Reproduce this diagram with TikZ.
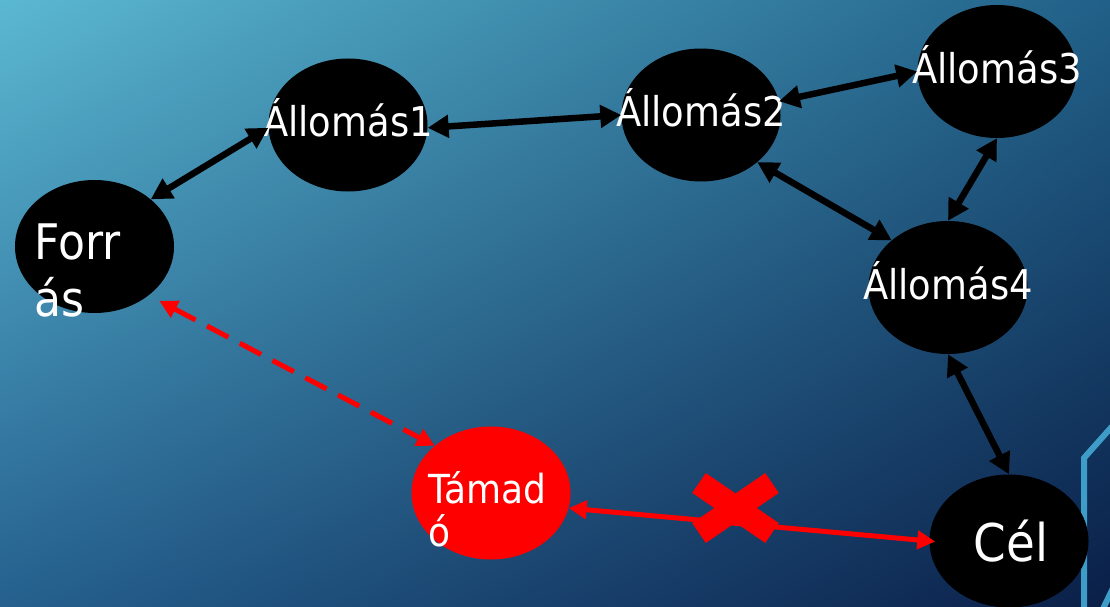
\documentclass[tikz,border=0pt]{standalone}
\usepackage{fontspec}
\setmainfont{DejaVu Sans}[FakeStretch=0.9]
\usetikzlibrary{shapes.geometric, arrows.meta, shadings}

\definecolor{bgTL}{RGB}{91,184,210}
\definecolor{bgTR}{RGB}{33,96,136}
\definecolor{bgBL}{RGB}{37,96,142}
\definecolor{bgBR}{RGB}{10,31,72}
\definecolor{frameblue}{RGB}{62,156,201}
\definecolor{alarm}{RGB}{255,0,0}

\tikzset{
  stn/.style={ellipse, fill=black, draw=none, inner sep=0pt,
              minimum width=159pt, minimum height=133pt},
  atk/.style={stn, fill=alarm},
  lbl/.style={text=white, inner sep=0pt, font=\fontsize{41}{48}\selectfont},
  stnlbl/.style={lbl, yshift=7pt},
  bigtxt/.style={text=white, inner sep=0pt, font=\fontsize{49}{57}\selectfont},
  link/.style={line width=6.5pt, black,
               {Triangle[length=21pt,width=22pt]}-{Triangle[length=21pt,width=22pt]}},
  redlink/.style={line width=5pt, alarm,
               {Triangle[length=18pt,width=18pt]}-{Triangle[length=18pt,width=18pt]}},
  xbar/.style={line width=24pt, alarm, line cap=butt}
}

\begin{document}
\begin{tikzpicture}[x=1pt,y=-1pt]
  % background
  \useasboundingbox (0,0) rectangle (1110,607);
  \shade[upper left=bgTL, upper right=bgTR, lower left=bgBL, lower right=bgBR]
    (0,0) rectangle (1110,607);
  \draw[line width=6pt, frameblue, line join=miter] (1084,615) -- (1084,458) -- (1116,422);
  \draw[line width=6pt, frameblue] (1100,615) -- (1114,586);

  % stations
  \node[stn] (forras) at (94.5,246.5) {};
  \node[bigtxt, anchor=north west, align=left] (forrasTxt) at (34,224) {Forr\\ás};
  \node[stn, label={[stnlbl]center:Állomás1}] (a1) at (348,125) {};
  \node[stn, label={[stnlbl]center:Állomás2}] (a2) at (701,115) {};
  \node[stn, label={[stnlbl]center:Állomás3}] (a3) at (997,71.5) {};
  \node[stn, label={[stnlbl]center:Állomás4}] (a4) at (948,287.5) {};
  \node[stn, label={[text=white, inner sep=0pt, font=\fontsize{52}{60}\selectfont,
        xshift=2pt]center:Cél}] (cel) at (1009,541) {};
  \node[atk] (tamado) at (491,493) {};
  \node[lbl, anchor=north west, align=left, font=\fontsize{40}{43}\selectfont]
    (tamadoTxt) at (428,471) {Támad\\ó};

  % links between stations
  \draw[link] (forras.40) -- (a1.182);
  \draw[link] (a1.358) -- (a2.180);
  \draw[link] (a2.10) -- (a3.180);
  \draw[link] (a2.320) -- (a4.140);
  \draw[link] (a3.270) -- (a4.90);
  \draw[link] (a4.270) -- (cel.90);

  % attacker links
  \draw[redlink, dash pattern=on 24pt off 13pt, shorten <=12pt] (forras.318) -- (tamado.140);
  \draw[redlink, shorten >=-6pt] (tamado.-11) -- (cel.west);

  % blocked mark
  \draw[xbar] (699,483) -- (772,533);
  \draw[xbar] (772,483) -- (699,533);
\end{tikzpicture}
\end{document}
